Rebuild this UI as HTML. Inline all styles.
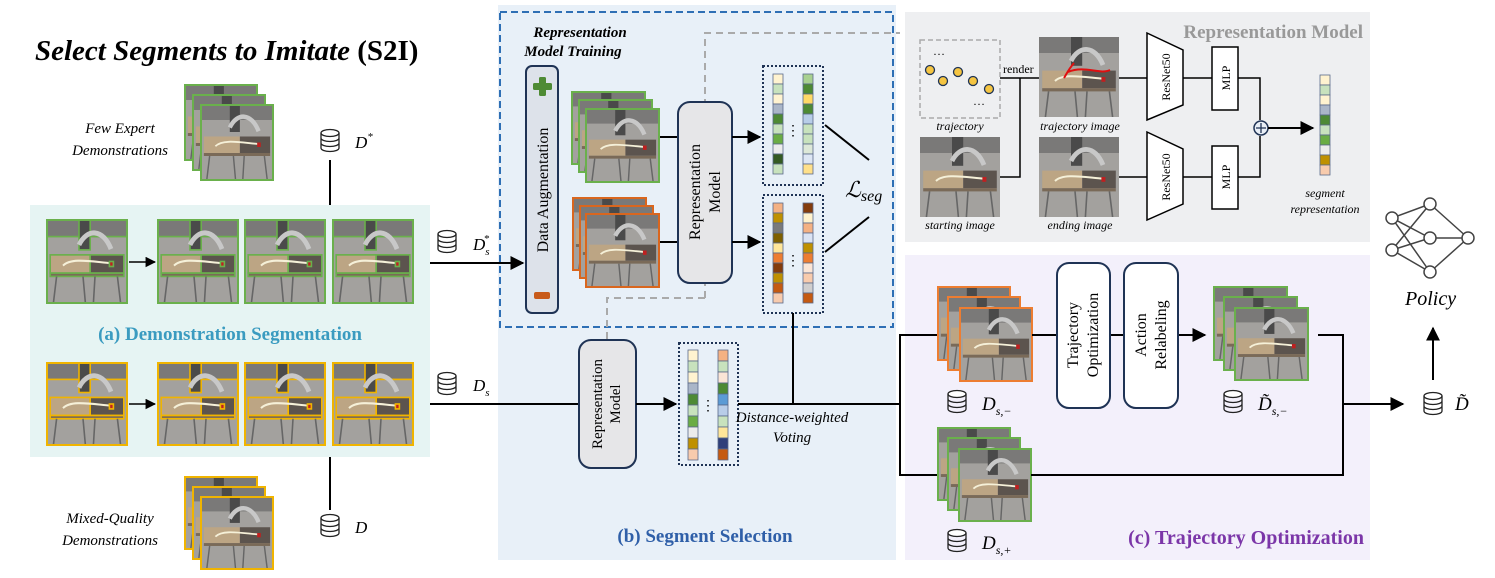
<!DOCTYPE html>
<html><head><meta charset="utf-8"><style>
html,body{margin:0;padding:0;background:#fff;}
svg{display:block;font-family:"Liberation Serif",serif;}
</style></head><body>
<svg width="1495" height="578" viewBox="0 0 1495 578" xmlns="http://www.w3.org/2000/svg">
<defs>
<g id="sc">
<rect x="0" y="0" width="100" height="100" fill="#a3a19e"/>
<rect x="0" y="0" width="100" height="20" fill="#7a7978"/>
<rect x="40" y="0" width="14" height="36" fill="#4a4a4a"/>
<path d="M40 30 C50 10 70 10 80 35" stroke="#c8c8c8" stroke-width="6" fill="none"/>
<rect x="4" y="42" width="50" height="22" fill="#bca584"/>
<rect x="54" y="42" width="42" height="22" fill="#5c544e"/>
<rect x="4" y="64" width="92" height="4" fill="#7a6a58"/>
<path d="M12 68 L8 100 M45 68 L48 100 M60 68 L58 100 M88 68 L92 100" stroke="#666" stroke-width="2"/>
<path d="M20 55 C30 45 55 50 80 52" stroke="#f5f0d8" stroke-width="2.5" fill="none"/>
<rect x="78" y="50" width="5" height="6" fill="#c02020"/>
</g>
<marker id="ar" viewBox="0 0 10 10" refX="9" refY="5" markerWidth="7" markerHeight="7" orient="auto"><path d="M0 0L10 5L0 10z" fill="#000"/></marker>
<g id="db"><ellipse cx="0" cy="0" rx="9" ry="3.5" fill="#fff" stroke="#222" stroke-width="1.3"/><path d="M-9 0v15a9 3.5 0 0 0 18 0v-15M-9 5a9 3.5 0 0 0 18 0M-9 10a9 3.5 0 0 0 18 0" fill="none" stroke="#222" stroke-width="1.3"/></g>
</defs>

<!-- panels -->
<rect x="30" y="205" width="400" height="252" fill="#e6f4f3"/>
<rect x="498" y="5" width="398" height="555" fill="#e8f0f8"/>
<rect x="500" y="12" width="393" height="315" fill="none" stroke="#2e6fb5" stroke-width="2" stroke-dasharray="7,4"/>
<rect x="905" y="12" width="465" height="230" fill="#eeeff1"/>
<rect x="905" y="255" width="465" height="305" fill="#f3f0fb"/>

<text x="35" y="60" font-size="29" font-weight="bold" font-style="italic">Select Segments to Imitate <tspan font-style="normal">(S2I)</tspan></text>

<!-- expert demos -->
<g>
<svg x="185" y="85" width="72" height="75" viewBox="0 0 100 100" preserveAspectRatio="none"><use href="#sc"/></svg><rect x="185" y="85" width="72" height="75" fill="none" stroke="#6ab04c" stroke-width="2"/>
<svg x="193" y="95" width="72" height="75" viewBox="0 0 100 100" preserveAspectRatio="none"><use href="#sc"/></svg><rect x="193" y="95" width="72" height="75" fill="none" stroke="#6ab04c" stroke-width="2"/>
<svg x="201" y="105" width="72" height="75" viewBox="0 0 100 100" preserveAspectRatio="none"><use href="#sc"/></svg><rect x="201" y="105" width="72" height="75" fill="none" stroke="#6ab04c" stroke-width="2"/>
</g>
<text x="120" y="133" font-size="15" font-style="italic" text-anchor="middle">Few Expert</text>
<text x="120" y="155" font-size="15" font-style="italic" text-anchor="middle">Demonstrations</text>
<use href="#db" x="330" y="133"/>
<text x="355" y="148" font-size="17" font-style="italic">D<tspan font-size="11" dy="-8">*</tspan></text>
<line x1="330" y1="160" x2="330" y2="205" stroke="#000" stroke-width="2"/>

<!-- top row -->
<g stroke="#6ab04c" stroke-width="2" fill="none">
<svg x="47" y="220" width="80" height="83" viewBox="0 0 100 100" preserveAspectRatio="none"><use href="#sc"/></svg><rect x="47" y="220" width="80" height="83"/>
<svg x="158" y="220" width="80" height="83" viewBox="0 0 100 100" preserveAspectRatio="none"><use href="#sc"/></svg><rect x="158" y="220" width="80" height="83"/>
<svg x="245" y="220" width="80" height="83" viewBox="0 0 100 100" preserveAspectRatio="none"><use href="#sc"/></svg><rect x="245" y="220" width="80" height="83"/>
<svg x="333" y="220" width="80" height="83" viewBox="0 0 100 100" preserveAspectRatio="none"><use href="#sc"/></svg><rect x="333" y="220" width="80" height="83"/>
</g>
<line x1="129" y1="262" x2="155" y2="262" stroke="#000" stroke-width="1.5" marker-end="url(#ar)"/>
<text x="230" y="340" font-size="19" font-weight="bold" fill="#3a9bc0" text-anchor="middle">(a) Demonstration Segmentation</text>
<g stroke="#f0b400" stroke-width="2" fill="none">
<svg x="47" y="363" width="80" height="82" viewBox="0 0 100 100" preserveAspectRatio="none"><use href="#sc"/></svg><rect x="47" y="363" width="80" height="82"/>
<svg x="158" y="363" width="80" height="82" viewBox="0 0 100 100" preserveAspectRatio="none"><use href="#sc"/></svg><rect x="158" y="363" width="80" height="82"/>
<svg x="245" y="363" width="80" height="82" viewBox="0 0 100 100" preserveAspectRatio="none"><use href="#sc"/></svg><rect x="245" y="363" width="80" height="82"/>
<svg x="333" y="363" width="80" height="82" viewBox="0 0 100 100" preserveAspectRatio="none"><use href="#sc"/></svg><rect x="333" y="363" width="80" height="82"/>
</g>
<line x1="129" y1="404" x2="155" y2="404" stroke="#000" stroke-width="1.5" marker-end="url(#ar)"/>

<!-- mixed -->
<g>
<svg x="185" y="477" width="72" height="72" viewBox="0 0 100 100" preserveAspectRatio="none"><use href="#sc"/></svg><rect x="185" y="477" width="72" height="72" fill="none" stroke="#f0b400" stroke-width="2"/>
<svg x="193" y="487" width="72" height="72" viewBox="0 0 100 100" preserveAspectRatio="none"><use href="#sc"/></svg><rect x="193" y="487" width="72" height="72" fill="none" stroke="#f0b400" stroke-width="2"/>
<svg x="201" y="497" width="72" height="72" viewBox="0 0 100 100" preserveAspectRatio="none"><use href="#sc"/></svg><rect x="201" y="497" width="72" height="72" fill="none" stroke="#f0b400" stroke-width="2"/>
</g>
<text x="110" y="523" font-size="15" font-style="italic" text-anchor="middle">Mixed-Quality</text>
<text x="110" y="545" font-size="15" font-style="italic" text-anchor="middle">Demonstrations</text>
<use href="#db" x="330" y="518"/>
<text x="355" y="533" font-size="17" font-style="italic">D</text>
<line x1="330" y1="457" x2="330" y2="510" stroke="#000" stroke-width="2"/>

<use href="#db" x="447" y="234"/>
<text x="473" y="250" font-size="17" font-style="italic">D<tspan font-size="11" dy="5">s</tspan><tspan font-size="11" dy="-13" dx="-6">*</tspan></text>
<line x1="430" y1="263" x2="523" y2="263" stroke="#000" stroke-width="2" marker-end="url(#ar)"/>
<use href="#db" x="447" y="376"/>
<text x="473" y="391" font-size="17" font-style="italic">D<tspan font-size="11" dy="5">s</tspan></text>
<line x1="430" y1="404" x2="578" y2="404" stroke="#000" stroke-width="2"/>

<!-- rep model training -->
<text x="580" y="37" font-size="15" font-weight="bold" font-style="italic" text-anchor="middle">Representation</text>
<text x="573" y="56" font-size="15" font-weight="bold" font-style="italic" text-anchor="middle">Model Training</text>
<path d="M705 298 V33 H900" fill="none" stroke="#aaa" stroke-width="2" stroke-dasharray="7,5"/>
<path d="M705 298 H607 V340" fill="none" stroke="#aaa" stroke-width="2" stroke-dasharray="7,5"/>
<rect x="526" y="66" width="32" height="247" rx="6" fill="#dde2ea" stroke="#1f3355" stroke-width="2"/>
<rect x="539" y="77" width="7" height="19" rx="1.5" fill="#4e8a34"/>
<rect x="533" y="83" width="19" height="7" rx="1.5" fill="#4e8a34"/>
<rect x="534" y="292" width="16" height="7" rx="2" fill="#c85a1a"/>
<text transform="translate(548,190) rotate(-90)" font-size="16" text-anchor="middle">Data Augmentation</text>
<g>
<svg x="572" y="92" width="73" height="72" viewBox="0 0 100 100" preserveAspectRatio="none"><use href="#sc"/></svg><rect x="572" y="92" width="73" height="72" fill="none" stroke="#6ab04c" stroke-width="2"/>
<svg x="579" y="100" width="73" height="72" viewBox="0 0 100 100" preserveAspectRatio="none"><use href="#sc"/></svg><rect x="579" y="100" width="73" height="72" fill="none" stroke="#6ab04c" stroke-width="2"/>
<svg x="586" y="109" width="73" height="73" viewBox="0 0 100 100" preserveAspectRatio="none"><use href="#sc"/></svg><rect x="586" y="109" width="73" height="73" fill="none" stroke="#6ab04c" stroke-width="2"/>
<svg x="573" y="198" width="73" height="72" viewBox="0 0 100 100" preserveAspectRatio="none"><use href="#sc"/></svg><rect x="573" y="198" width="73" height="72" fill="none" stroke="#d9661e" stroke-width="2"/>
<svg x="580" y="206" width="73" height="72" viewBox="0 0 100 100" preserveAspectRatio="none"><use href="#sc"/></svg><rect x="580" y="206" width="73" height="72" fill="none" stroke="#d9661e" stroke-width="2"/>
<svg x="586" y="214" width="73" height="73" viewBox="0 0 100 100" preserveAspectRatio="none"><use href="#sc"/></svg><rect x="586" y="214" width="73" height="73" fill="none" stroke="#d9661e" stroke-width="2"/>
</g>
<line x1="660" y1="137" x2="678" y2="137" stroke="#000" stroke-width="2"/>
<line x1="660" y1="242" x2="678" y2="242" stroke="#000" stroke-width="2"/>
<rect x="678" y="102" width="54" height="181" rx="12" fill="#e6e6e8" stroke="#1f3355" stroke-width="2"/>
<text transform="translate(700,192) rotate(-90)" font-size="16" text-anchor="middle">Representation</text>
<text transform="translate(720,192) rotate(-90)" font-size="16" text-anchor="middle">Model</text>
<line x1="732" y1="137" x2="760" y2="137" stroke="#000" stroke-width="2" marker-end="url(#ar)"/>
<line x1="732" y1="242" x2="760" y2="242" stroke="#000" stroke-width="2" marker-end="url(#ar)"/>
<rect x="763" y="66" width="60" height="119" fill="none" stroke="#1f3355" stroke-width="2" stroke-dasharray="2,2"/>
<g stroke="#5a6a8a" stroke-width="0.8">
<rect x="773" y="74" width="10" height="10" fill="#fff3d0"/><rect x="773" y="84" width="10" height="10" fill="#c8e2bd"/><rect x="773" y="94" width="10" height="10" fill="#fff3d0"/><rect x="773" y="104" width="10" height="10" fill="#aab6c8"/><rect x="773" y="114" width="10" height="10" fill="#4e8a34"/><rect x="773" y="124" width="10" height="10" fill="#c8e2bd"/><rect x="773" y="134" width="10" height="10" fill="#6aac44"/><rect x="773" y="144" width="10" height="10" fill="#ececec"/><rect x="773" y="154" width="10" height="10" fill="#355b22"/><rect x="773" y="164" width="10" height="10" fill="#c8e2bd"/>
<rect x="803" y="74" width="10" height="10" fill="#a8d090"/><rect x="803" y="84" width="10" height="10" fill="#4e8a34"/><rect x="803" y="94" width="10" height="10" fill="#ffd966"/><rect x="803" y="104" width="10" height="10" fill="#4e8a34"/><rect x="803" y="114" width="10" height="10" fill="#b8cde8"/><rect x="803" y="124" width="10" height="10" fill="#c8e2bd"/><rect x="803" y="134" width="10" height="10" fill="#c8e2bd"/><rect x="803" y="144" width="10" height="10" fill="#dde8d8"/><rect x="803" y="154" width="10" height="10" fill="#dde6f4"/><rect x="803" y="164" width="10" height="10" fill="#ffe08a"/>
</g>
<text x="793" y="135" font-size="14" text-anchor="middle">⋮</text>
<rect x="763" y="195" width="60" height="118" fill="none" stroke="#1f3355" stroke-width="2" stroke-dasharray="2,2"/>
<g stroke="#5a6a8a" stroke-width="0.8">
<rect x="773" y="203" width="10" height="10" fill="#f4b183"/><rect x="773" y="213" width="10" height="10" fill="#bf9000"/><rect x="773" y="223" width="10" height="10" fill="#7a7a7a"/><rect x="773" y="233" width="10" height="10" fill="#7f6000"/><rect x="773" y="243" width="10" height="10" fill="#ffe699"/><rect x="773" y="253" width="10" height="10" fill="#ed7d31"/><rect x="773" y="263" width="10" height="10" fill="#843c0c"/><rect x="773" y="273" width="10" height="10" fill="#bf9000"/><rect x="773" y="283" width="10" height="10" fill="#c55a11"/><rect x="773" y="293" width="10" height="10" fill="#f8cbad"/>
<rect x="803" y="203" width="10" height="10" fill="#843c0c"/><rect x="803" y="213" width="10" height="10" fill="#fff2cc"/><rect x="803" y="223" width="10" height="10" fill="#f4b183"/><rect x="803" y="233" width="10" height="10" fill="#dae3f3"/><rect x="803" y="243" width="10" height="10" fill="#bf9000"/><rect x="803" y="253" width="10" height="10" fill="#ed7d31"/><rect x="803" y="263" width="10" height="10" fill="#fbe5d6"/><rect x="803" y="273" width="10" height="10" fill="#f8cbad"/><rect x="803" y="283" width="10" height="10" fill="#d0cece"/><rect x="803" y="293" width="10" height="10" fill="#c55a11"/>
</g>
<text x="793" y="265" font-size="14" text-anchor="middle">⋮</text>
<line x1="825" y1="125" x2="869" y2="160" stroke="#000" stroke-width="2"/>
<line x1="825" y1="252" x2="869" y2="217" stroke="#000" stroke-width="2"/>
<text x="845" y="197" font-size="22" font-style="italic">ℒ<tspan font-size="16" dy="4">seg</tspan></text>
<line x1="793" y1="313" x2="793" y2="404" stroke="#000" stroke-width="2"/>

<!-- segment selection lower -->
<rect x="579" y="340" width="57" height="128" rx="12" fill="#e6e6e8" stroke="#1f3355" stroke-width="2"/>
<text transform="translate(602,404) rotate(-90)" font-size="15" text-anchor="middle">Representation</text>
<text transform="translate(620,404) rotate(-90)" font-size="15" text-anchor="middle">Model</text>
<line x1="636" y1="404" x2="676" y2="404" stroke="#000" stroke-width="2" marker-end="url(#ar)"/>
<rect x="679" y="343" width="59" height="122" fill="none" stroke="#1f3355" stroke-width="2" stroke-dasharray="2,2"/>
<g stroke="#5a6a8a" stroke-width="0.8">
<rect x="688" y="350" width="10" height="11" fill="#fff3d0"/><rect x="688" y="361" width="10" height="11" fill="#c8e2bd"/><rect x="688" y="372" width="10" height="11" fill="#fff3d0"/><rect x="688" y="383" width="10" height="11" fill="#aab6c8"/><rect x="688" y="394" width="10" height="11" fill="#4e8a34"/><rect x="688" y="405" width="10" height="11" fill="#c8e2bd"/><rect x="688" y="416" width="10" height="11" fill="#6aac44"/><rect x="688" y="427" width="10" height="11" fill="#ececec"/><rect x="688" y="438" width="10" height="11" fill="#bf9000"/><rect x="688" y="449" width="10" height="11" fill="#f8cbad"/>
<rect x="718" y="350" width="10" height="11" fill="#f4b183"/><rect x="718" y="361" width="10" height="11" fill="#c8e2bd"/><rect x="718" y="372" width="10" height="11" fill="#fbe5d6"/><rect x="718" y="383" width="10" height="11" fill="#4e8a34"/><rect x="718" y="394" width="10" height="11" fill="#5b9bd5"/><rect x="718" y="405" width="10" height="11" fill="#b8cde8"/><rect x="718" y="416" width="10" height="11" fill="#c8e2bd"/><rect x="718" y="427" width="10" height="11" fill="#ffe699"/><rect x="718" y="438" width="10" height="11" fill="#2f3f7a"/><rect x="718" y="449" width="10" height="11" fill="#c55a11"/>
</g>
<text x="708" y="410" font-size="14" text-anchor="middle">⋮</text>
<line x1="738" y1="404" x2="900" y2="404" stroke="#000" stroke-width="2"/>
<text x="792" y="422" font-size="15" font-style="italic" text-anchor="middle">Distance-weighted</text>
<text x="792" y="442" font-size="15" font-style="italic" text-anchor="middle">Voting</text>
<text x="705" y="542" font-size="19" font-weight="bold" fill="#2f5fa8" text-anchor="middle">(b) Segment Selection</text>

<!-- representation model panel -->
<text x="1363" y="38" font-size="19" font-weight="bold" fill="#999" text-anchor="end">Representation Model</text>
<rect x="920" y="40" width="80" height="78" fill="none" stroke="#aaa" stroke-width="1.5" stroke-dasharray="5,3"/>
<text x="933" y="55" font-size="12">…</text><text x="973" y="105" font-size="12">…</text>
<g fill="#f5c542" stroke="#1f3355" stroke-width="1.3">
<circle cx="930" cy="70" r="4.5"/><circle cx="943" cy="81" r="4.5"/><circle cx="958" cy="72" r="4.5"/><circle cx="973" cy="81" r="4.5"/><circle cx="989" cy="89" r="4.5"/></g>
<text x="960" y="130" font-size="12" font-style="italic" text-anchor="middle">trajectory</text>
<svg x="920" y="137" width="80" height="80" viewBox="0 0 100 100" preserveAspectRatio="none"><use href="#sc"/></svg>
<text x="960" y="229" font-size="12" font-style="italic" text-anchor="middle">starting image</text>
<svg x="1039" y="37" width="80" height="80" viewBox="0 0 100 100" preserveAspectRatio="none"><use href="#sc"/></svg>
<path d="M1074 63 C1068 70 1066 75 1064 78 M1068 72 C1085 65 1100 75 1110 70" stroke="#e01010" stroke-width="2" fill="none"/>
<text x="1080" y="130" font-size="12" font-style="italic" text-anchor="middle">trajectory image</text>
<svg x="1039" y="137" width="80" height="80" viewBox="0 0 100 100" preserveAspectRatio="none"><use href="#sc"/></svg>
<text x="1080" y="229" font-size="12" font-style="italic" text-anchor="middle">ending image</text>
<path d="M1000 78 H1039 M1020 78 V177 H1000" fill="none" stroke="#000" stroke-width="1.5"/>
<text x="1003" y="73" font-size="12">render</text>
<line x1="1119" y1="78" x2="1147" y2="78" stroke="#000" stroke-width="1.5"/>
<line x1="1119" y1="177" x2="1147" y2="177" stroke="#000" stroke-width="1.5"/>
<path d="M1147 33 L1183 50 V105 L1147 120 Z" fill="#fff" stroke="#000" stroke-width="1.5"/>
<path d="M1147 132 L1183 149 V204 L1147 220 Z" fill="#fff" stroke="#000" stroke-width="1.5"/>
<text transform="translate(1170,77) rotate(-90)" font-size="12" text-anchor="middle">ResNet50</text>
<text transform="translate(1170,177) rotate(-90)" font-size="12" text-anchor="middle">ResNet50</text>
<line x1="1183" y1="78" x2="1212" y2="78" stroke="#000" stroke-width="1.5"/>
<line x1="1183" y1="177" x2="1212" y2="177" stroke="#000" stroke-width="1.5"/>
<rect x="1212" y="47" width="26" height="63" fill="#fff" stroke="#000" stroke-width="1.5"/>
<rect x="1212" y="146" width="26" height="63" fill="#fff" stroke="#000" stroke-width="1.5"/>
<text transform="translate(1230,78) rotate(-90)" font-size="12" text-anchor="middle">MLP</text>
<text transform="translate(1230,177) rotate(-90)" font-size="12" text-anchor="middle">MLP</text>
<path d="M1238 78 H1260 V120 M1238 177 H1260 V136" fill="none" stroke="#000" stroke-width="1.5"/>
<circle cx="1261" cy="128" r="7" fill="#e8eef6" stroke="#1f3355" stroke-width="1.5"/>
<path d="M1256 128h10M1261 123v10" stroke="#1f3355" stroke-width="1.3"/>
<line x1="1268" y1="128" x2="1313" y2="128" stroke="#000" stroke-width="2" marker-end="url(#ar)"/>
<g stroke="#5a6a8a" stroke-width="0.8">
<rect x="1320" y="75" width="10" height="10" fill="#fff3d0"/><rect x="1320" y="85" width="10" height="10" fill="#c8e2bd"/><rect x="1320" y="95" width="10" height="10" fill="#fff3d0"/><rect x="1320" y="105" width="10" height="10" fill="#aab6c8"/><rect x="1320" y="115" width="10" height="10" fill="#4e8a34"/><rect x="1320" y="125" width="10" height="10" fill="#c8e2bd"/><rect x="1320" y="135" width="10" height="10" fill="#6aac44"/><rect x="1320" y="145" width="10" height="10" fill="#ececec"/><rect x="1320" y="155" width="10" height="10" fill="#bf9000"/><rect x="1320" y="165" width="10" height="10" fill="#f8cbad"/>
</g>
<text x="1325" y="197" font-size="12" font-style="italic" text-anchor="middle">segment</text>
<text x="1325" y="213" font-size="12" font-style="italic" text-anchor="middle">representation</text>

<!-- policy net -->
<g stroke="#444" stroke-width="1.5" fill="#fff">
<path d="M1392 218 L1430 204 M1392 218 L1430 238 M1392 218 L1430 272 M1392 250 L1430 204 M1392 250 L1430 238 M1392 250 L1430 272 M1430 204 L1468 238 M1430 238 L1468 238 M1430 272 L1468 238" fill="none"/>
<circle cx="1392" cy="218" r="6"/><circle cx="1392" cy="250" r="6"/><circle cx="1430" cy="204" r="6"/><circle cx="1430" cy="238" r="6"/><circle cx="1430" cy="272" r="6"/><circle cx="1468" cy="238" r="6"/>
</g>
<text x="1405" y="305" font-size="20" font-style="italic">Policy</text>
<line x1="1433" y1="380" x2="1433" y2="328" stroke="#000" stroke-width="2" marker-end="url(#ar)"/>

<!-- trajectory optimization -->
<path d="M900 404 V335 H938 M900 404 V475 H938" fill="none" stroke="#000" stroke-width="2"/>
<g>
<svg x="938" y="287" width="72" height="73" viewBox="0 0 100 100" preserveAspectRatio="none"><use href="#sc"/></svg><rect x="938" y="287" width="72" height="73" fill="none" stroke="#ed7d31" stroke-width="2"/>
<svg x="948" y="297" width="72" height="73" viewBox="0 0 100 100" preserveAspectRatio="none"><use href="#sc"/></svg><rect x="948" y="297" width="72" height="73" fill="none" stroke="#ed7d31" stroke-width="2"/>
<svg x="960" y="308" width="72" height="73" viewBox="0 0 100 100" preserveAspectRatio="none"><use href="#sc"/></svg><rect x="960" y="308" width="72" height="73" fill="none" stroke="#ed7d31" stroke-width="2"/>
<svg x="938" y="428" width="72" height="72" viewBox="0 0 100 100" preserveAspectRatio="none"><use href="#sc"/></svg><rect x="938" y="428" width="72" height="72" fill="none" stroke="#6ab04c" stroke-width="2"/>
<svg x="948" y="438" width="72" height="72" viewBox="0 0 100 100" preserveAspectRatio="none"><use href="#sc"/></svg><rect x="948" y="438" width="72" height="72" fill="none" stroke="#6ab04c" stroke-width="2"/>
<svg x="959" y="449" width="72" height="72" viewBox="0 0 100 100" preserveAspectRatio="none"><use href="#sc"/></svg><rect x="959" y="449" width="72" height="72" fill="none" stroke="#6ab04c" stroke-width="2"/>
<svg x="1214" y="287" width="73" height="73" viewBox="0 0 100 100" preserveAspectRatio="none"><use href="#sc"/></svg><rect x="1214" y="287" width="73" height="73" fill="none" stroke="#6ab04c" stroke-width="2"/>
<svg x="1224" y="297" width="73" height="73" viewBox="0 0 100 100" preserveAspectRatio="none"><use href="#sc"/></svg><rect x="1224" y="297" width="73" height="73" fill="none" stroke="#6ab04c" stroke-width="2"/>
<svg x="1235" y="308" width="73" height="72" viewBox="0 0 100 100" preserveAspectRatio="none"><use href="#sc"/></svg><rect x="1235" y="308" width="73" height="72" fill="none" stroke="#6ab04c" stroke-width="2"/>
</g>
<line x1="1032" y1="335" x2="1057" y2="335" stroke="#000" stroke-width="2"/>
<line x1="1110" y1="335" x2="1124" y2="335" stroke="#000" stroke-width="2"/>
<line x1="1178" y1="335" x2="1205" y2="335" stroke="#000" stroke-width="2" marker-end="url(#ar)"/>
<rect x="1057" y="263" width="53" height="145" rx="12" fill="#fff" stroke="#1f3355" stroke-width="2"/>
<rect x="1124" y="263" width="54" height="145" rx="12" fill="#fff" stroke="#1f3355" stroke-width="2"/>
<text transform="translate(1078,335) rotate(-90)" font-size="16" text-anchor="middle">Trajectory</text>
<text transform="translate(1098,335) rotate(-90)" font-size="16" text-anchor="middle">Optimization</text>
<text transform="translate(1146,335) rotate(-90)" font-size="16" text-anchor="middle">Action</text>
<text transform="translate(1166,335) rotate(-90)" font-size="16" text-anchor="middle">Relabeling</text>
<path d="M1318 335 H1343 V475 H1031" fill="none" stroke="#000" stroke-width="2"/>
<line x1="1343" y1="404" x2="1403" y2="404" stroke="#000" stroke-width="2" marker-end="url(#ar)"/>
<use href="#db" x="957" y="394"/>
<text x="982" y="410" font-size="19" font-style="italic">D<tspan font-size="12" dy="5">s,−</tspan></text>
<use href="#db" x="1233" y="394"/>
<text x="1258" y="410" font-size="19" font-style="italic">D̃<tspan font-size="12" dy="5">s,−</tspan></text>
<use href="#db" x="957" y="533"/>
<text x="982" y="549" font-size="19" font-style="italic">D<tspan font-size="12" dy="5">s,+</tspan></text>
<use href="#db" x="1433" y="396"/>
<text x="1455" y="410" font-size="19" font-style="italic">D̃</text>
<text x="1364" y="544" font-size="20" font-weight="bold" fill="#7b36a8" text-anchor="end">(c) Trajectory Optimization</text>
</svg>
</body></html>
